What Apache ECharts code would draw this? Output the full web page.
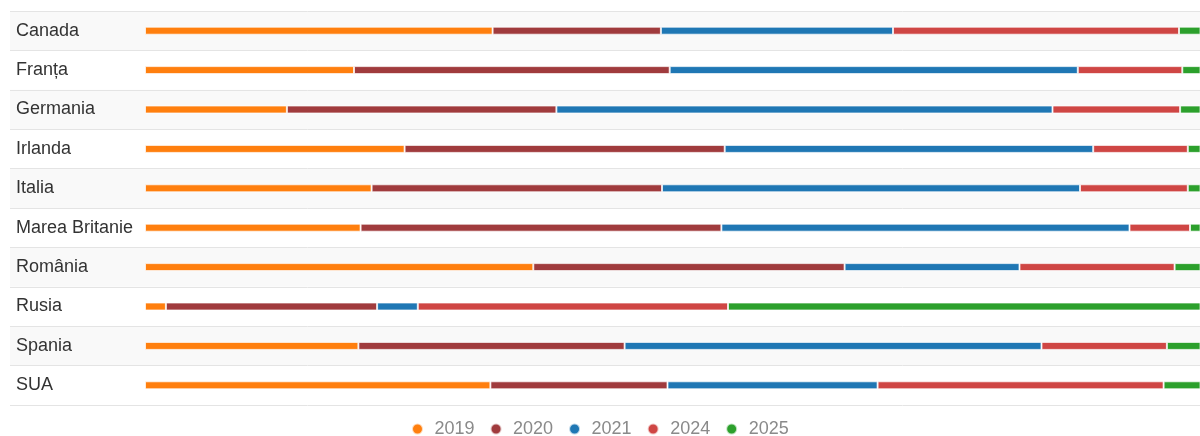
<!DOCTYPE html>
<html>
<head>
<meta charset="utf-8">
<script src="https://cdn.jsdelivr.net/npm/echarts@6/dist/echarts.min.js"></script>
<style>html,body{margin:0;padding:0;background:#fff}#c{width:1200px;height:436px}</style>
</head>
<body>
<div id="c"></div>
<script>
var categories = ["Canada", "Franța", "Germania", "Irlanda", "Italia", "Marea Britanie", "România", "Rusia", "Spania", "SUA"];
var seriesNames = ["2019", "2020", "2021", "2024", "2025"];
var v2019 = [31.6, 19.0, 12.9, 23.6, 20.6, 19.6, 35.3, 1.9, 19.4, 31.4];
var v2020 = [15.3, 28.7, 24.5, 29.1, 26.4, 32.8, 28.3, 19.2, 24.2, 16.1];
var v2021 = [21.1, 37.1, 45.1, 33.5, 38.0, 37.1, 15.9, 3.7, 37.9, 19.1];
var v2024 = [26.0, 9.5, 11.6, 8.6, 9.8, 5.5, 14.1, 28.2, 11.4, 26.0];
var v2025 = [6.0, 5.7, 5.9, 5.2, 5.2, 5.0, 6.4, 47.0, 7.1, 7.4];
var colors = ["#ff7f0e", "#a03b3d", "#1f77b4", "#cf4644", "#2ca02c"];
var allValues = [v2019, v2020, v2021, v2024, v2025];

var chart = echarts.init(document.getElementById('c'), null, {renderer: 'canvas'});
var series = seriesNames.map(function (n, i) {
  return {
    name: n,
    type: 'bar',
    stack: 'total',
    barWidth: 8,
    clip: true,
    data: allValues[i],
    itemStyle: {color: colors[i], borderColor: 'rgba(255,255,255,0.7)', borderWidth: 1},
    emphasis: {disabled: true}
  };
});
chart.setOption({
  animation: false,
  color: colors,
  grid: {left: 10, right: 0, top: 11, bottom: 31, containLabel: false},
  xAxis: {
    type: 'value',
    min: -135 / 11,
    max: 1055 / 11,
    show: false,
    splitLine: {show: false}
  },
  yAxis: {
    type: 'category',
    data: categories,
    inverse: true,
    axisLine: {show: false},
    axisTick: {show: false},
    axisLabel: {
      inside: true,
      margin: 6,
      color: '#333',
      fontSize: 18,
      fontFamily: '"Liberation Sans", Arial, sans-serif'
    },
    splitLine: {show: true, lineStyle: {color: '#e4e4e4', width: 1}},
    splitArea: {show: true, areaStyle: {color: ['#f9f9f9', '#ffffff']}},
    z: 1
  },
  legend: {
    data: seriesNames,
    left: 406,
    top: 415,
    icon: 'circle',
    itemWidth: 24,
    itemHeight: 11,
    itemGap: 15,
    textStyle: {color: '#8a8a8a', fontSize: 18, fontFamily: '"Liberation Sans", Arial, sans-serif'}
  },
  series: series
});
</script>
</body>
</html>
